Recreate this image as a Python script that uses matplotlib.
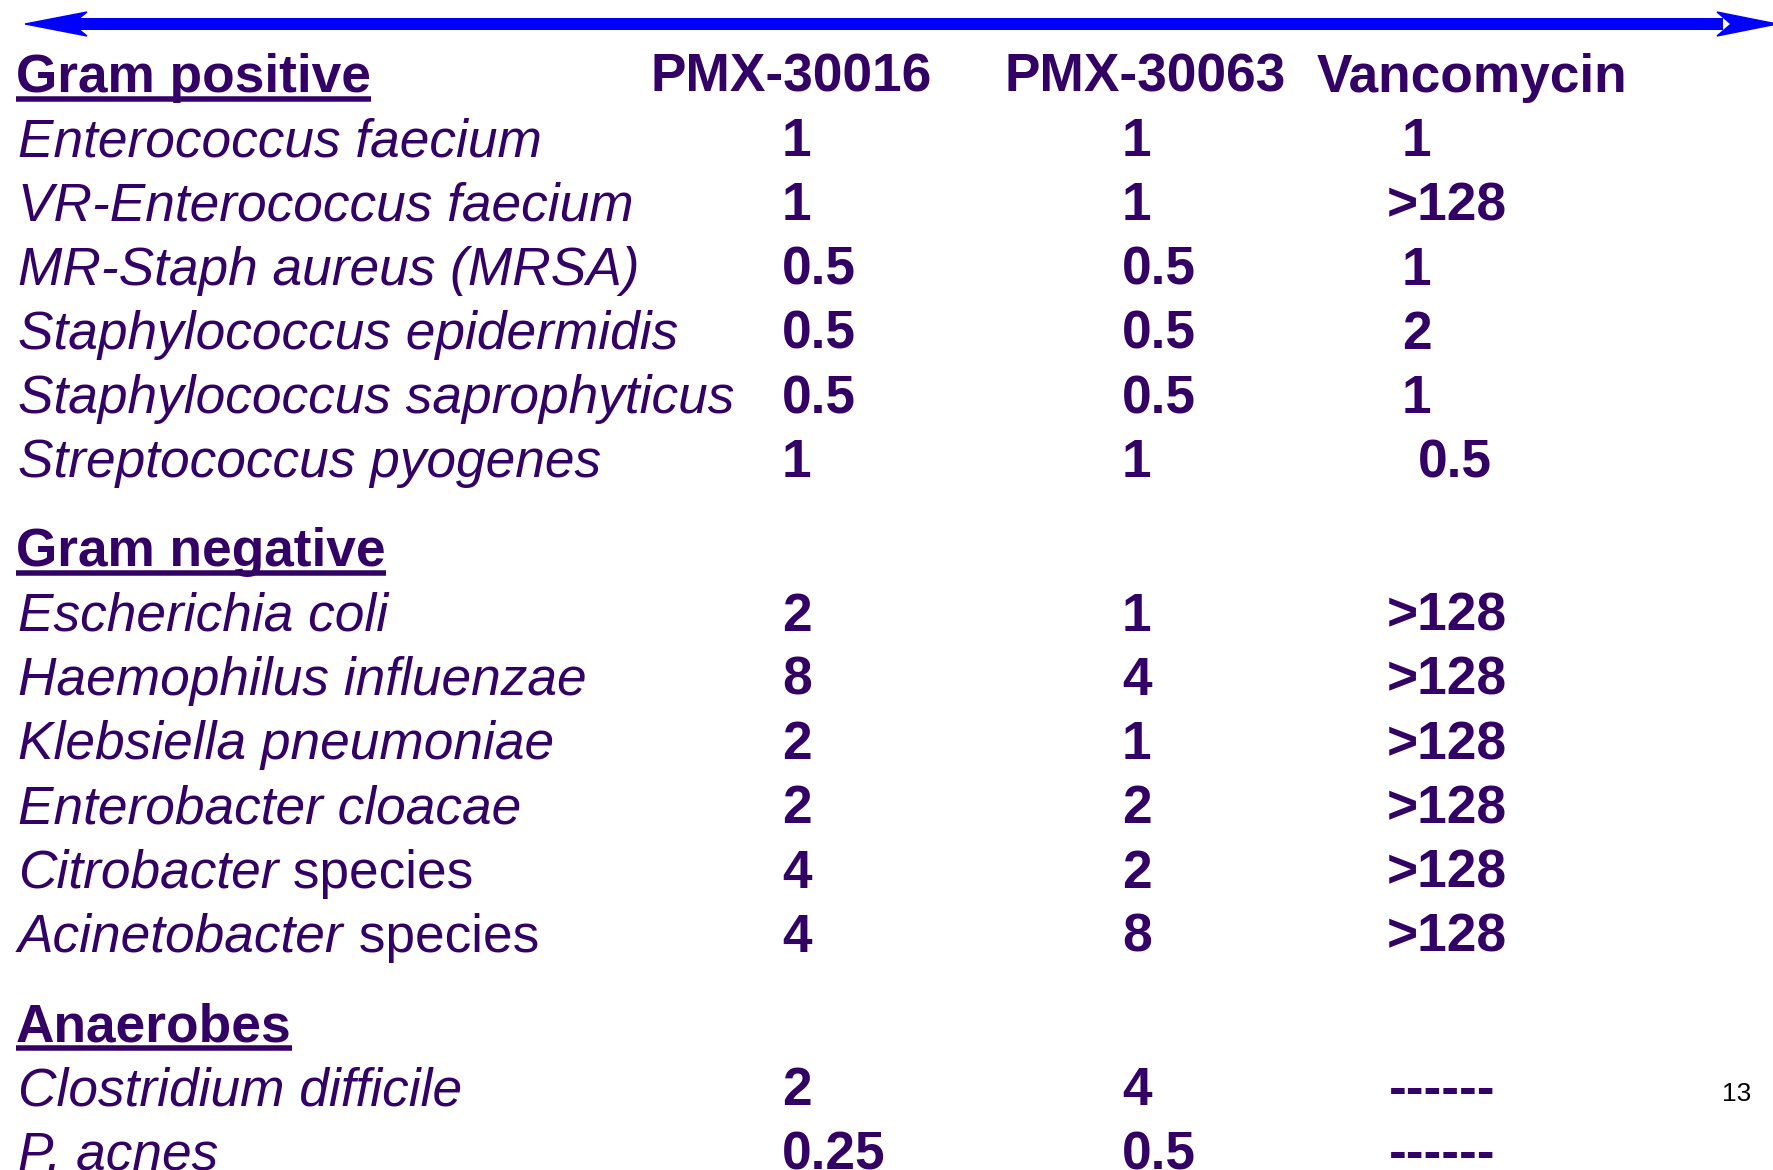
import matplotlib
matplotlib.use("Agg")
import matplotlib.pyplot as plt
from matplotlib.patches import Polygon

# MIC values (ug/mL) as shown on the slide
drug_names = ["PMX-30016", "PMX-30063", "Vancomycin"]
section_names = ["Gram positive", "Gram negative", "Anaerobes"]

gram_pos_organisms = ["Enterococcus faecium", "VR-Enterococcus faecium",
                      "MR-Staph aureus (MRSA)", "Staphylococcus epidermidis",
                      "Staphylococcus saprophyticus", "Streptococcus pyogenes"]
gram_pos_pmx30016 = ["1", "1", "0.5", "0.5", "0.5", "1"]
gram_pos_pmx30063 = ["1", "1", "0.5", "0.5", "0.5", "1"]
gram_pos_vanco = ["1", ">128", "1", "2", "1", "0.5"]

gram_neg_organisms = ["Escherichia coli", "Haemophilus influenzae",
                      "Klebsiella pneumoniae", "Enterobacter cloacae",
                      "Citrobacter species", "Acinetobacter species"]
gram_neg_pmx30016 = ["2", "8", "2", "2", "4", "4"]
gram_neg_pmx30063 = ["1", "4", "1", "2", "2", "8"]
gram_neg_vanco = [">128", ">128", ">128", ">128", ">128", ">128"]

anaerobe_organisms = ["Clostridium difficile", "P. acnes"]
anaerobe_pmx30016 = ["2", "0.25"]
anaerobe_pmx30063 = ["4", "0.5"]
anaerobe_vanco = ["------", "------"]

page_number = "13"

# layout (pixels)
W, H = 1773, 1170
PURPLE = "#330066"
FONT = "Liberation Sans"
FS = 38.3
name_x = 18
head_x = 16
drug_head_x = [650, 1005, 1317]
val_x = [782, 1122, 1387]
# the vancomycin column on the slide is hand-indented per value
vanco_indent = {"1": 15, "2": 15, "0.5": 31, ">128": 0, "------": 2}
row_step = 64.2
section_gap = 89.3
cap_half = 17

fig = plt.figure(figsize=(W / 100, H / 100), dpi=100)
ax = fig.add_axes([0, 0, 1, 1])
ax.set_xlim(0, W)
ax.set_ylim(H, 0)
ax.axis("off")

# double headed arrow at the top
ay = 24
ax.plot([70, W - 50], [ay, ay], color="#0000FF", lw=12 * 0.72, solid_capstyle="butt")
ax.add_patch(Polygon([[25, ay], [87, ay - 12], [72, ay], [87, ay + 12]],
                     closed=True, color="#0000FF"))
ax.add_patch(Polygon([[W + 4, ay], [W - 56, ay - 12], [W - 42, ay], [W - 56, ay + 12]],
                     closed=True, color="#0000FF"))

fig.canvas.draw()
renderer = fig.canvas.get_renderer()


def right_edge(t):
    bb = t.get_window_extent(renderer)
    return ax.transData.inverted().transform((bb.x1, bb.y0))[0]


def header(label, y):
    t = ax.text(head_x, y + cap_half, label, fontsize=FS, fontweight="bold",
                family=FONT, color=PURPLE, va="baseline")
    x1 = right_edge(t)
    ax.plot([head_x, x1], [y + cap_half + 7, y + cap_half + 7],
            color=PURPLE, lw=5.5 * 0.72, solid_capstyle="butt")


def organism(label, y):
    if label.endswith(" species"):
        italic_part = label[:-len(" species")]
        t = ax.text(name_x, y + cap_half, italic_part, fontsize=FS, style="italic",
                    family=FONT, color=PURPLE, va="baseline")
        ax.text(right_edge(t), y + cap_half, " species", fontsize=FS,
                family=FONT, color=PURPLE, va="baseline")
    else:
        ax.text(name_x, y + cap_half, label, fontsize=FS, style="italic",
                family=FONT, color=PURPLE, va="baseline")


def values(vals, y):
    for j, v in enumerate(vals):
        x = val_x[j] + (vanco_indent.get(v, 0) if j == 2 else 0)
        ax.text(x, y + cap_half, v, fontsize=FS, fontweight="bold",
                family=FONT, color=PURPLE, va="baseline")


sections = [
    (gram_pos_organisms, gram_pos_pmx30016, gram_pos_pmx30063, gram_pos_vanco),
    (gram_neg_organisms, gram_neg_pmx30016, gram_neg_pmx30063, gram_neg_vanco),
    (anaerobe_organisms, anaerobe_pmx30016, anaerobe_pmx30063, anaerobe_vanco),
]

y = 75
for s, (orgs, c1, c2, c3) in enumerate(sections):
    header(section_names[s], y)
    if s == 0:
        for j, d in enumerate(drug_names):
            ax.text(drug_head_x[j], y + cap_half, d, fontsize=FS, fontweight="bold",
                    family=FONT, color=PURPLE, va="baseline")
    for i, org in enumerate(orgs):
        y += row_step
        organism(org, y)
        values([c1[i], c2[i], c3[i]], y)
    y += section_gap

ax.text(1722, 1101, page_number, fontsize=19, family=FONT, color="black", va="baseline")

fig.savefig("out.png", dpi=100)
